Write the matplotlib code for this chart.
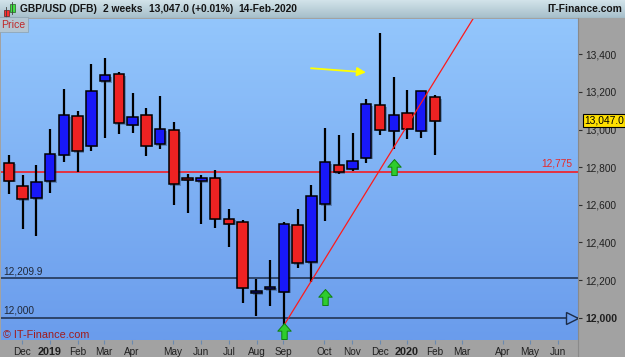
import numpy as np
import matplotlib
matplotlib.use("Agg")
import matplotlib.pyplot as plt
from matplotlib.patches import Rectangle
from matplotlib.path import Path
import matplotlib.transforms as mtransforms

plt.rcParams['font.family'] = ['Liberation Sans', 'DejaVu Sans']

# two-week GBP/USD candles (values x10000)
opens  = [12824, 12700, 12635, 12725, 12866, 13070, 12914, 13256, 13294, 13026,
          13076, 12923, 12996, 12743, 12725, 12743, 12525, 12507, 12130, 12151,
          12138, 12491, 12296, 12604, 12810, 12792, 12850, 13129, 12994, 13090,
          12994, 13171]
highs  = [12865, 12758, 12812, 13001, 13216, 13100, 13347, 13379, 13308, 13194,
          13113, 13178, 13038, 12762, 12757, 12783, 12576, 12519, 12206, 12307,
          12507, 12578, 12705, 13010, 12971, 12982, 13163, 13512, 13279, 13210,
          13205, 13182]
lows   = [12656, 12471, 12434, 12665, 12828, 12776, 12888, 12957, 12975, 12983,
          12861, 12898, 12599, 12557, 12498, 12475, 12378, 12076, 12011, 12064,
          11958, 12266, 12191, 12514, 12765, 12780, 12822, 12973, 12897, 12950,
          12955, 12865]
closes = [12728, 12629, 12720, 12872, 13077, 12884, 13203, 13288, 13033, 13065,
          12914, 13001, 12709, 12734, 12743, 12525, 12500, 12159, 12144, 12165,
          12496, 12289, 12645, 12826, 12773, 12831, 13134, 12999, 13076, 13003,
          13203, 13047]

month_pos = [0.95, 2.98, 5.02, 6.91, 8.95, 11.94, 13.97, 16.0, 18.05, 19.94,
             22.93, 24.96, 27.0, 28.97, 31.0, 32.97, 35.95, 37.92, 39.96]
month_labels = ['Dec', '2019', 'Feb', 'Mar', 'Apr', 'May', 'Jun', 'Jul', 'Aug', 'Sep',
                'Oct', 'Nov', 'Dec', '2020', 'Feb', 'Mar', 'Apr', 'May', 'Jun']
price_ticks = [12000, 12200, 12400, 12600, 12800, 13000, 13200, 13400]

resistance = 12775
support_1 = 12209.9
support_2 = 12000
last_price = 13047.0
trend_x = [20, 33.8]
trend_y = [11958, 13592]
signal_x = [20, 23, 28]
signal_top = [11957, 12138, 12826]
signal_bottom = [11899, 12082, 12773]
note_x = [21.98, 25.98]
note_y = [13326, 13304]

W, H = 625, 357
fig = plt.figure(figsize=(W / 100, H / 100), dpi=100)
fig.patch.set_facecolor('#a2a2a2')

ax = fig.add_axes([1 / W, 17 / H, 577 / W, 321 / H])
xmin, xmax = -0.58, 41.41
ymin, ymax = 11881.5, 13587.6
ax.set_xlim(xmin, xmax)
ax.set_ylim(ymin, ymax)

# background gradient
grad = np.linspace(0, 1, 256).reshape(-1, 1)
top = np.array([0x93, 0xc6, 0xfc]) / 255
bot = np.array([0x6a, 0x9c, 0xec]) / 255
img = top * (1 - grad)[..., None] + bot * grad[..., None]
ax.imshow(img, extent=[xmin, xmax, ymin, ymax], aspect='auto', zorder=0)

# horizontal levels
ax.axhline(resistance, color='#ff1010', lw=1.1, zorder=1)
ax.axhline(support_1, color='#1c2c48', lw=1.1, zorder=1)
ax.axhline(support_2, color='#1c2c48', lw=1.1, zorder=1)
ax.plot([41.0], [support_2], marker='>', ms=8, mfc='#6a9cec', mec='#1c2c48', mew=1.0, zorder=2)

# candles
bw = 0.76
px_x = (xmax - xmin) / 577
px_y = (ymax - ymin) / 321
for i in range(len(opens)):
    o, h, l, c = opens[i], highs[i], lows[i], closes[i]
    up = c >= o
    ax.plot([i, i], [l, h], color='black', lw=1.6, zorder=3, solid_capstyle='butt')
    lo, hi = min(o, c), max(o, c)
    hgt = max(hi - lo, 2 * px_y)
    ax.add_patch(Rectangle((i - bw / 2 + 1.5 * px_x, lo - 1.5 * px_y), bw, hgt,
                           facecolor='#203050', alpha=0.35, lw=0, zorder=3.5))
    ax.add_patch(Rectangle((i - bw / 2, lo), bw, hgt,
                           facecolor='#1818f8' if up else '#ee2222',
                           edgecolor='black', lw=1.1, zorder=4))

# trend line
ax.plot(trend_x, trend_y, color='#ff1a1a', lw=0.9, zorder=5)

# green signal arrows
arrow = Path([(0, 0.5), (0.42, 0.02), (0.17, 0.02), (0.17, -0.5), (-0.17, -0.5),
              (-0.17, 0.02), (-0.42, 0.02), (0, 0.5)])
for sx, st, sb in zip(signal_x, signal_top, signal_bottom):
    ax.plot([sx], [(st + sb) / 2], marker=arrow, ms=11.5, mfc='#2ecc2e', mec='#108010',
            mew=0.7, zorder=6)

# yellow note arrow
ax.annotate('', xy=(note_x[1], note_y[1]), xytext=(note_x[0], note_y[0]),
            arrowprops=dict(arrowstyle='-|>', color='#ffff00', lw=1.3, mutation_scale=13,
                            shrinkA=0, shrinkB=0), zorder=6)

# level labels
ax.text(41.0, resistance + 3 * px_y, '12,775', color='#e82828', fontsize=7.3, ha='right', va='bottom')
ax.text(-0.4, support_1 + 2 * px_y, '12,209.9', color='#202838', fontsize=7.3, ha='left', va='bottom')
ax.text(-0.4, support_2 + 2 * px_y, '12,000', color='#202838', fontsize=7.3, ha='left', va='bottom')
ax.text(-0.4, 11908, '\u00a9 IT-Finance.com', color='#a01c1c', fontsize=7.8, ha='left', va='center')

# axes styling
for s in ax.spines.values():
    s.set_visible(False)
ax.yaxis.tick_right()
ax.set_yticks(price_ticks)
ax.set_yticklabels([f'{v:,}' for v in price_ticks])
ax.tick_params(axis='y', length=3, width=0.8, color='#303030', pad=2.5, labelsize=7.3, labelcolor='#202020')
ax.get_yticklabels()[0].set_fontweight('bold')
ax.get_yticklabels()[0].set_fontsize(7.6)
ax.set_xticks(month_pos)
ax.set_xticklabels(month_labels)
ax.tick_params(axis='x', length=3, width=0.8, color='#6a8ab0', pad=2, labelsize=7.2, labelcolor='#202020')
for t in ax.get_xticklabels():
    if t.get_text() in ('2019', '2020'):
        t.set_fontweight('bold')
        t.set_fontsize(7.8)

# last price tag
blend = mtransforms.blended_transform_factory(ax.transAxes, ax.transData)
ax.text(1.0 + 6 / 577, last_price, '13,047.0', transform=blend, fontsize=7.4, color='black',
        ha='left', va='center', zorder=10, clip_on=False,
        bbox=dict(boxstyle='square,pad=0.12', facecolor='#ffe000', edgecolor='black', lw=0.8))

# divider line between plot and axis strip
fig.add_artist(plt.Line2D([578 / W, 578 / W], [0, (H - 18) / H], color='#8a8a8a', lw=0.8))

# title bar
tb = fig.add_axes([0, (H - 18) / H, 1, 18 / H])
tb.set_xlim(0, W)
tb.set_ylim(18, 0)
tb.axis('off')
tgrad = np.linspace(0, 1, 64).reshape(-1, 1)
ttop = np.array([0xd2, 0xe3, 0xea]) / 255
tbot = np.array([0xa6, 0xbf, 0xca]) / 255
timg = ttop * (1 - tgrad)[..., None] + tbot * tgrad[..., None]
tb.imshow(timg, extent=[0, W, 18, 0], aspect='auto')
tb.plot([0, W], [17.6, 17.6], color='#7f949e', lw=0.8)
# small icon
tb.plot([6, 6], [7, 17], color='#404040', lw=0.6)
tb.add_patch(Rectangle((3.5, 10), 5, 5.5, facecolor='#ff3030', edgecolor='#602020', lw=0.5))
tb.plot([12, 12], [2, 14], color='#404040', lw=0.6)
tb.add_patch(Rectangle((9.5, 4), 5, 8, facecolor='#40e040', edgecolor='#206020', lw=0.5))
tb.text(20, 9, 'GBP/USD (DFB)', fontsize=7.4, fontweight='bold', color='#151515', va='center')
tb.text(103, 9, '2 weeks', fontsize=7.4, fontweight='bold', color='#151515', va='center')
tb.text(149, 9, '13,047.0 (+0.01%)', fontsize=7.4, fontweight='bold', color='#151515', va='center')
tb.text(238, 9, '14-Feb-2020', fontsize=7.4, fontweight='bold', color='#151515', va='center')
tb.text(622, 9, 'IT-Finance.com', fontsize=7.4, fontweight='bold', color='#151515', va='center', ha='right')

# "Price" tab
fig.text(1.5 / W, (H - 19.5) / H, 'Price', fontsize=7.6, color='#c02828', ha='left', va='top',
         bbox=dict(boxstyle='square,pad=0.2', facecolor='#b4c6d2', edgecolor='#8aa0b0', lw=0.5))

fig.savefig('out.png', dpi=100)
